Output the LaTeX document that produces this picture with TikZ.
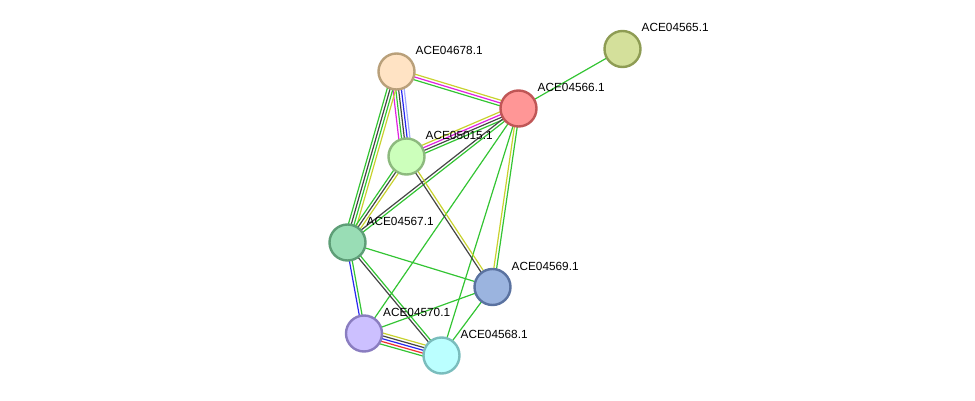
\documentclass[tikz,border=0pt]{standalone}
\usepackage{fontspec}
\setmainfont{Liberation Sans}
\usetikzlibrary{calc}
\usetikzlibrary{backgrounds}
\definecolor{strGreen}{HTML}{33C433}
\definecolor{strYellow}{HTML}{C8D22E}
\definecolor{strBlack}{HTML}{454545}
\definecolor{strMagenta}{HTML}{E020E0}
\definecolor{strBlue}{HTML}{2828F0}
\definecolor{strLightBlue}{HTML}{A0A8FF}
\definecolor{strRed}{HTML}{F03030}
\tikzset{
    prot/.style={draw, circle, line width=2.4pt, minimum size=36pt, inner sep=0pt},
    protLabel/.style={anchor=base west, inner sep=0pt, font=\fontsize{11.8}{14}\selectfont},
    edge/.style={line width=1.2pt}
}
% parallel lines between two nodes, one per colour
\newcommand{\strlink}[3]{
    \foreach \c [count=\n] in {#3} {\xdef\lineCount{\n}}
    \foreach \c [count=\i] in {#3} {
        \pgfmathsetmacro{\off}{(\i-(\lineCount+1)/2)*2.8}
        \draw [edge, color=\c] ($(#1)!\off pt!-90:(#2)$) -- ($(#2)!\off pt!90:(#1)$);
    }
}

\begin{document}
\begin{tikzpicture}[x=1pt, y=-1pt]
    \useasboundingbox (0,0) rectangle (975,401);

    \node [prot, fill={rgb,255:red,255;green,227;blue,196}, draw={rgb,255:red,185;green,160;blue,122}] (n04678) at (396.5,71.5) {};
    \node [prot, fill={rgb,255:red,255;green,150;blue,150}, draw={rgb,255:red,192;green,86;blue,86}] (n04566) at (518.5,108.5) {};
    \node [prot, fill={rgb,255:red,212;green,224;blue,155}, draw={rgb,255:red,142;green,156;blue,84}] (n04565) at (622.5,49) {};
    \node [prot, fill={rgb,255:red,204;green,255;blue,187}, draw={rgb,255:red,141;green,186;blue,126}] (n05015) at (406.5,156.5) {};
    \node [prot, fill={rgb,255:red,153;green,221;blue,181}, draw={rgb,255:red,94;green,158;blue,119}] (n04567) at (347.5,242.5) {};
    \node [prot, fill={rgb,255:red,155;green,180;blue,223}, draw={rgb,255:red,90;green,114;blue,160}] (n04569) at (492.5,287) {};
    \node [prot, fill={rgb,255:red,204;green,192;blue,255}, draw={rgb,255:red,138;green,125;blue,192}] (n04570) at (364,333.5) {};
    \node [prot, fill={rgb,255:red,187;green,255;blue,255}, draw={rgb,255:red,122;green,189;blue,189}] (n04568) at (441.5,355.5) {};

    \node [protLabel] (l04678) at ([shift={(19,-17)}]n04678.center) {ACE04678.1};
    \node [protLabel] (l04566) at ([shift={(19,-17)}]n04566.center) {ACE04566.1};
    \node [protLabel] (l04565) at ([shift={(19,-17)}]n04565.center) {ACE04565.1};
    \node [protLabel] (l05015) at ([shift={(19,-17)}]n05015.center) {ACE05015.1};
    \node [protLabel] (l04567) at ([shift={(19,-17)}]n04567.center) {ACE04567.1};
    \node [protLabel] (l04569) at ([shift={(19,-17)}]n04569.center) {ACE04569.1};
    \node [protLabel] (l04570) at ([shift={(19,-17)}]n04570.center) {ACE04570.1};
    \node [protLabel] (l04568) at ([shift={(19,-17)}]n04568.center) {ACE04568.1};

    \begin{scope}[on background layer]
        \strlink{n04566}{n04565}{strGreen}
        \strlink{n04678}{n04566}{strYellow,strMagenta,strGreen}
        \strlink{n04678}{n05015}{strLightBlue,strBlue,strBlack,strGreen,strMagenta}
        \strlink{n04678}{n04567}{strYellow,strGreen,strBlack,strGreen}
        \strlink{n04566}{n05015}{strGreen,strBlack,strMagenta,strYellow}
        \strlink{n04566}{n04567}{strGreen,strBlack}
        \strlink{n04566}{n04569}{strGreen,strYellow}
        \strlink{n04566}{n04570}{strGreen}
        \strlink{n04566}{n04568}{strGreen}
        \strlink{n05015}{n04567}{strYellow,strBlack,strGreen}
        \strlink{n05015}{n04569}{strYellow,strBlack}
        \strlink{n04567}{n04569}{strGreen}
        \strlink{n04567}{n04570}{strGreen,strBlue}
        \strlink{n04567}{n04568}{strGreen,strBlack}
        \strlink{n04569}{n04570}{strGreen}
        \strlink{n04569}{n04568}{strGreen}
        \strlink{n04570}{n04568}{strYellow,strBlack,strBlue,strRed,strGreen}
    \end{scope}
\end{tikzpicture}
\end{document}
